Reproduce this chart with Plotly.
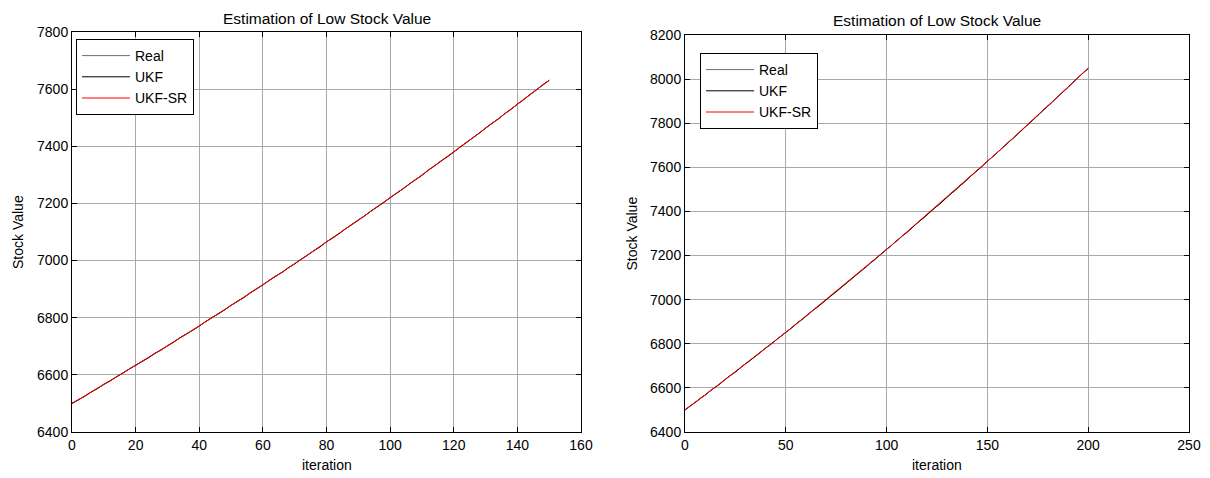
import plotly.graph_objects as go

# ---------------- data ----------------
left_step = 2
left_real = [6500, 6514, 6524, 6540, 6551, 6568, 6578, 6594, 6605, 6621,
             6632, 6648, 6659, 6676, 6686, 6703, 6714, 6731, 6742, 6758,
             6770, 6787, 6799, 6815, 6827, 6844, 6856, 6872, 6885, 6902,
             6914, 6931, 6944, 6960, 6973, 6990, 7003, 7020, 7033, 7050,
             7064, 7081, 7094, 7112, 7125, 7143, 7156, 7174, 7187, 7205,
             7219, 7237, 7250, 7268, 7282, 7300, 7315, 7333, 7347, 7365,
             7379, 7398, 7412, 7431, 7445, 7464, 7479, 7497, 7512, 7531,
             7546, 7565, 7580, 7599, 7614, 7632]
left_ukf = [6501, 6512, 6526, 6538, 6553, 6566, 6580, 6592, 6607, 6619,
            6634, 6646, 6661, 6674, 6688, 6701, 6716, 6729, 6744, 6756,
            6772, 6785, 6801, 6813, 6829, 6842, 6858, 6870, 6887, 6900,
            6916, 6929, 6946, 6958, 6975, 6988, 7005, 7018, 7035, 7048,
            7066, 7079, 7096, 7110, 7127, 7141, 7158, 7172, 7189, 7203,
            7221, 7235, 7252, 7266, 7284, 7298, 7317, 7331, 7349, 7363,
            7381, 7396, 7414, 7429, 7447, 7462, 7481, 7495, 7514, 7529,
            7548, 7563, 7582, 7597, 7616, 7630]
left_ukfsr = [6499, 6513, 6525, 6539, 6552, 6567, 6579, 6593, 6606, 6620,
              6633, 6647, 6660, 6675, 6687, 6702, 6715, 6730, 6743, 6757,
              6771, 6786, 6800, 6814, 6828, 6843, 6857, 6871, 6886, 6901,
              6915, 6930, 6945, 6959, 6974, 6989, 7004, 7019, 7034, 7049,
              7065, 7080, 7095, 7111, 7126, 7142, 7157, 7173, 7188, 7204,
              7220, 7236, 7251, 7267, 7283, 7299, 7316, 7332, 7348, 7364,
              7380, 7397, 7413, 7430, 7446, 7463, 7480, 7496, 7513, 7530,
              7547, 7564, 7581, 7598, 7615, 7631]

right_step = 2
right_real = [6500, 6515, 6526, 6542, 6554, 6569, 6581, 6597, 6609, 6625,
              6637, 6653, 6665, 6681, 6693, 6709, 6721, 6738, 6750, 6766,
              6779, 6795, 6807, 6824, 6836, 6853, 6865, 6882, 6895, 6911,
              6924, 6941, 6954, 6970, 6983, 7000, 7013, 7030, 7043, 7060,
              7073, 7091, 7104, 7121, 7134, 7151, 7165, 7182, 7196, 7213,
              7227, 7244, 7258, 7275, 7289, 7306, 7320, 7338, 7352, 7370,
              7383, 7401, 7415, 7433, 7447, 7465, 7479, 7497, 7512, 7530,
              7544, 7562, 7577, 7595, 7609, 7628, 7642, 7661, 7675, 7694,
              7709, 7727, 7742, 7761, 7775, 7794, 7809, 7828, 7843, 7862,
              7877, 7896, 7911, 7930, 7945, 7964, 7980, 7999, 8014, 8034,
              8050]
right_ukf = [6501, 6513, 6528, 6540, 6556, 6567, 6583, 6595, 6611, 6623,
             6639, 6651, 6667, 6679, 6695, 6707, 6723, 6736, 6752, 6764,
             6781, 6793, 6809, 6822, 6838, 6851, 6867, 6880, 6897, 6909,
             6926, 6939, 6956, 6968, 6985, 6998, 7015, 7028, 7045, 7058,
             7075, 7089, 7106, 7119, 7136, 7149, 7167, 7180, 7198, 7211,
             7229, 7242, 7260, 7273, 7291, 7304, 7322, 7336, 7354, 7368,
             7385, 7399, 7417, 7431, 7449, 7463, 7481, 7495, 7514, 7528,
             7546, 7560, 7579, 7593, 7611, 7626, 7644, 7659, 7677, 7692,
             7711, 7725, 7744, 7759, 7777, 7792, 7811, 7826, 7845, 7860,
             7879, 7894, 7913, 7928, 7947, 7962, 7982, 7997, 8016, 8032,
             8048]
right_ukfsr = [6499, 6514, 6527, 6541, 6555, 6568, 6582, 6596, 6610, 6624,
               6638, 6652, 6666, 6680, 6694, 6708, 6722, 6737, 6751, 6765,
               6780, 6794, 6808, 6823, 6837, 6852, 6866, 6881, 6896, 6910,
               6925, 6940, 6955, 6969, 6984, 6999, 7014, 7029, 7044, 7059,
               7074, 7090, 7105, 7120, 7135, 7150, 7166, 7181, 7197, 7212,
               7228, 7243, 7259, 7274, 7290, 7305, 7321, 7337, 7353, 7369,
               7384, 7400, 7416, 7432, 7448, 7464, 7480, 7496, 7513, 7529,
               7545, 7561, 7578, 7594, 7610, 7627, 7643, 7660, 7676, 7693,
               7710, 7726, 7743, 7760, 7776, 7793, 7810, 7827, 7844, 7861,
               7878, 7895, 7912, 7929, 7946, 7963, 7981, 7998, 8015, 8033,
               8049]

series_names = ["Real", "UKF", "UKF-SR"]
series_colors = ["#6e6e6e", "#000000", "#ff0000"]
title_text = "Estimation of Low Stock Value"
xlabel = "iteration"
ylabel = "Stock Value"

FONT = "Liberation Sans, Arial, sans-serif"
OFF = 8                      # page body margin
W, H = 1210 - 2 * OFF, 478 - OFF

fig = go.Figure()

def xs(vals, step):
    return [i * step for i in range(len(vals))]

for name, col, vals in zip(series_names, series_colors, [left_real, left_ukf, left_ukfsr]):
    fig.add_trace(go.Scatter(x=xs(vals, left_step), y=vals, mode="lines", name=name,
                             line=dict(color=col, width=1), xaxis="x", yaxis="y",
                             legend="legend"))
for name, col, vals in zip(series_names, series_colors, [right_real, right_ukf, right_ukfsr]):
    fig.add_trace(go.Scatter(x=xs(vals, right_step), y=vals, mode="lines", name=name,
                             line=dict(color=col, width=1), xaxis="x2", yaxis="y2",
                             legend="legend2"))

# plot area boxes in screen pixels (left, right, top, bottom)
L = (72, 581, 32, 432)
R = (685, 1189, 35, 432)

def px(x):
    return (x - OFF) / W

def py(y):
    return 1 - (y - OFF) / H

def dom_x(b):
    return [px(b[0]), px(b[1])]

def dom_y(b):
    return [py(b[3]), py(b[2])]

axis_common = dict(showline=True, linecolor="black", linewidth=1, mirror="ticks",
                   ticks="inside", ticklen=5, tickcolor="black", automargin=False,
                   showgrid=True, gridcolor="#a8a8a8", gridwidth=1,
                   zeroline=False, tickfont=dict(family=FONT, size=14, color="black"))

fig.update_layout(
    width=W, height=H,
    margin=dict(l=0, r=0, t=0, b=0, autoexpand=False),
    paper_bgcolor="white", plot_bgcolor="white",
    font=dict(family=FONT, size=14, color="black"),
    xaxis=dict(domain=dom_x(L), range=[0, 160], dtick=20, anchor="y", **axis_common),
    yaxis=dict(domain=dom_y(L), range=[6400, 7800], dtick=200, anchor="x", **axis_common),
    xaxis2=dict(domain=dom_x(R), range=[0, 250], dtick=50, anchor="y2", **axis_common),
    yaxis2=dict(domain=dom_y(R), range=[6400, 8200], dtick=200, anchor="x2", **axis_common),
    legend=dict(x=px(76), y=py(39), xanchor="left", yanchor="top",
                bgcolor="white", bordercolor="black", borderwidth=1, itemwidth=48,
                font=dict(family=FONT, size=14), tracegroupgap=0),
    legend2=dict(x=px(700), y=py(53), xanchor="left", yanchor="top",
                 bgcolor="white", bordercolor="black", borderwidth=1, itemwidth=48,
                 font=dict(family=FONT, size=14), tracegroupgap=0),
    showlegend=True,
)

annots = []
for b in (L, R):
    cx = px((b[0] + b[1]) / 2)
    annots.append(dict(text=title_text, x=cx, y=py(b[2] - 14), xref="paper", yref="paper",
                       xanchor="center", yanchor="middle", showarrow=False,
                       font=dict(family=FONT, size=15.5)))
    annots.append(dict(text=xlabel, x=cx, y=py(465), xref="paper", yref="paper",
                       xanchor="center", yanchor="middle", showarrow=False,
                       font=dict(family=FONT, size=14)))
    annots.append(dict(text=ylabel, x=px(b[0] - 54), y=py((b[2] + b[3]) / 2),
                       xref="paper", yref="paper", xanchor="center", yanchor="middle",
                       textangle=-90, showarrow=False, font=dict(family=FONT, size=14)))
fig.update_layout(annotations=annots)

fig.write_html("out.html")
